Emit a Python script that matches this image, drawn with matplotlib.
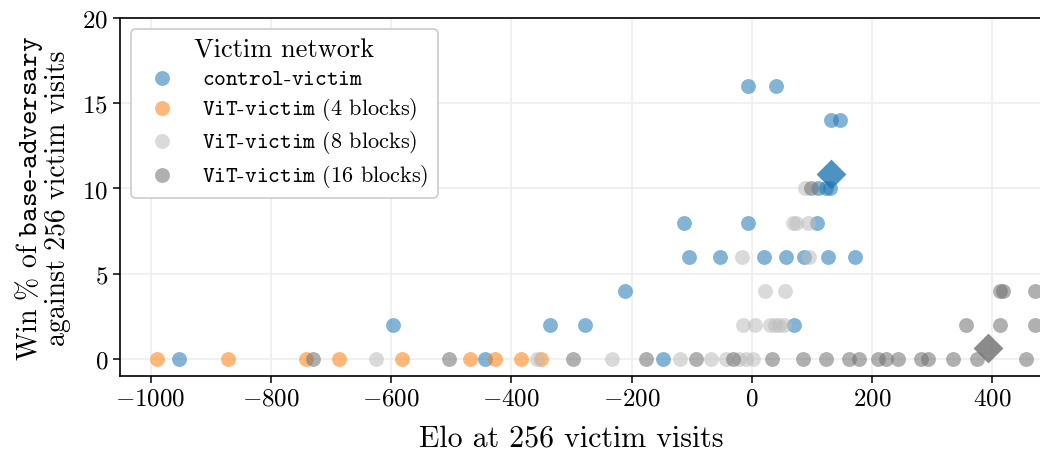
import matplotlib
matplotlib.use("Agg")
import matplotlib.pyplot as plt

plt.rcParams['font.family'] = ['cmr10']
plt.rcParams['mathtext.fontset'] = 'cm'
plt.rcParams['axes.formatter.use_mathtext'] = True
plt.rcParams['axes.unicode_minus'] = True

# control-victim
ctrl_elo = [-953, -444, -147, -597, -335, -277, 71, -211,
            -105, -52, 21, 57, 87, 127, 171, -112, -6, 108,
            110, 124, 131, 132, 147, -7, 41]
ctrl_win = [0, 0, 0, 2, 2, 2, 2, 4,
            6, 6, 6, 6, 6, 6, 6, 8, 8, 8,
            10, 10, 10, 14, 14, 16, 16]

# ViT-victim (4 blocks)
vit4_elo = [-990, -871, -741, -687, -582, -469, -427, -384, -351]
vit4_win = [0, 0, 0, 0, 0, 0, 0, 0, 0]

# ViT-victim (8 blocks)
vit8_elo = [-625, -357, -232, -120, -68, -43, -21, -10, 2,
            -15, 6, 30, 38, 46, 53, 22, 55, -16, 96, 68, 74, 94, 88]
vit8_win = [0, 0, 0, 0, 0, 0, 0, 0, 0,
            2, 2, 2, 2, 2, 2, 4, 4, 6, 6, 8, 8, 8, 10]

# ViT-victim (16 blocks)
vit16_elo = [-730, -504, -297, -176, -93, -32, 34, 85, 124, 161, 178, 210,
             224, 243, 282, 293, 335, 375, 457, 357, 413, 471, 413, 418, 471, 98]
vit16_win = [0, 0, 0, 0, 0, 0, 0, 0, 0, 0, 0, 0,
             0, 0, 0, 0, 0, 0, 0, 2, 2, 2, 4, 4, 4, 10]

# summary markers
mean_elo = [132, 393]
mean_win = [10.85, 0.65]

labels = [r'$\mathtt{control}$-$\mathtt{victim}$',
          r'$\mathtt{ViT}$-$\mathtt{victim}$ (4 blocks)',
          r'$\mathtt{ViT}$-$\mathtt{victim}$ (8 blocks)',
          r'$\mathtt{ViT}$-$\mathtt{victim}$ (16 blocks)']
colors = ['#1f77b4', '#ff7f0e', '#bdbdbd', '#707070']

fig = plt.figure(figsize=(10.4, 4.52), dpi=100)
ax = fig.add_axes([0.1154, 0.166, 0.886, 0.792])

series = [(ctrl_elo, ctrl_win), (vit4_elo, vit4_win),
          (vit8_elo, vit8_win), (vit16_elo, vit16_win)]
for (xs, ys), c, lab in zip(series, colors, labels):
    ax.scatter(xs, ys, s=115, color=c, alpha=0.55, linewidths=0, label=lab, zorder=3)

ax.scatter(mean_elo[:1], mean_win[:1], marker='D', s=230, color='#1f77b4',
           alpha=0.8, linewidths=0, zorder=4)
ax.scatter(mean_elo[1:], mean_win[1:], marker='D', s=230, color='#6e6e6e',
           alpha=0.8, linewidths=0, zorder=4)

ax.set_xlim(-1051, 482)
ax.set_ylim(-1, 20)
ax.set_yticks([0, 5, 10, 15, 20])
ax.set_xticks([-1000, -800, -600, -400, -200, 0, 200, 400])
ax.grid(True, color='#eeeeee', linewidth=1.2, zorder=0)
ax.set_axisbelow(True)
for sp in ax.spines.values():
    sp.set_linewidth(1.2)
ax.tick_params(labelsize=18, length=5, width=1.1)

ax.set_xlabel('Elo at 256 victim visits', fontsize=21.5, labelpad=9)
ax.xaxis.set_label_coords(0.49, -0.135)
ax.set_ylabel('Win % of $\\mathtt{base}$-$\\mathtt{adversary}$\nagainst 256 victim visits',
              fontsize=20, linespacing=1.0, labelpad=8)

leg = ax.legend(title='Victim network', loc='upper left', fontsize=16,
                title_fontsize=19, frameon=True, fancybox=True,
                edgecolor='#cccccc', framealpha=1.0, markerscale=1.0,
                handletextpad=0.8, borderpad=0.4, labelspacing=0.3,
                borderaxespad=0.5)
leg.get_frame().set_linewidth(1.2)

fig.savefig('out.png', dpi=100)
